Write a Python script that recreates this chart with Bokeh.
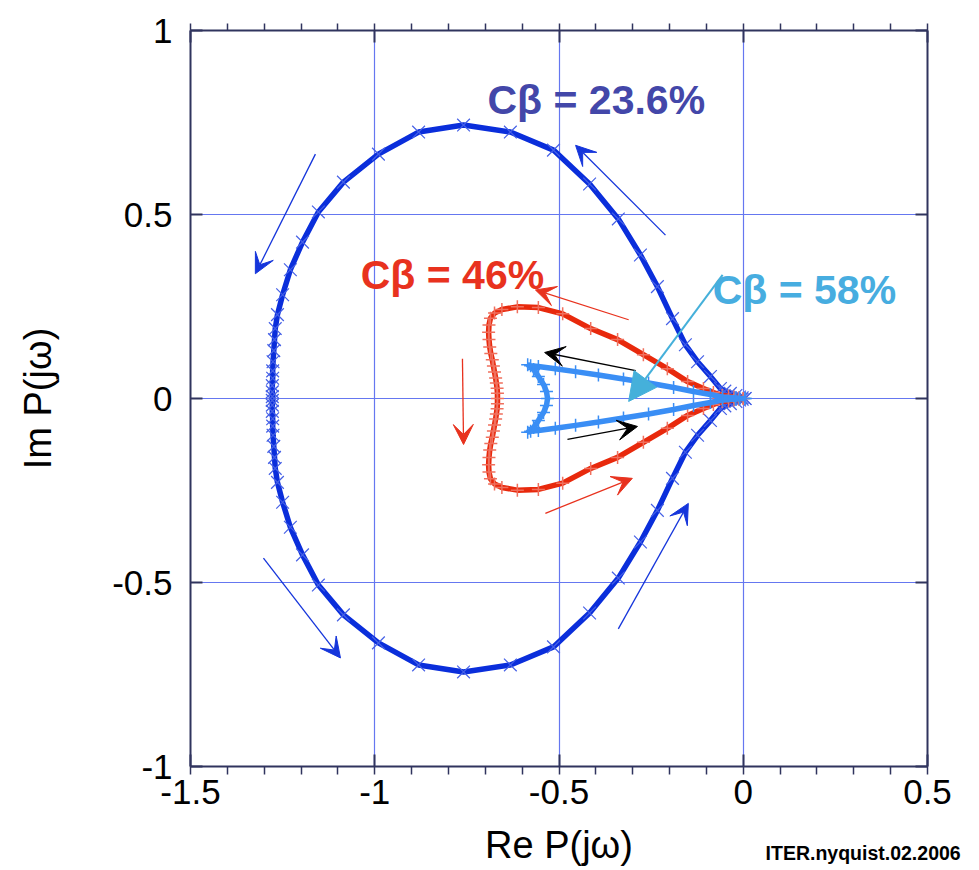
from bokeh.plotting import figure
from bokeh.models import (LinearAxis, SingleIntervalTicker, Arrow, VeeHead, NormalHead,
                          Label, ColumnDataSource, Range1d)
from bokeh.embed import file_html
from bokeh.resources import INLINE
from bokeh.core.properties import value

# ---------------- data ----------------
# C_beta = 23.6 %  (dark blue, x markers)
blue_x = [0.005, -0.003, -0.010, -0.020, -0.035, -0.050, -0.062, -0.089, -0.124, -0.157,
          -0.192, -0.233, -0.279, -0.339, -0.417, -0.515, -0.632, -0.759, -0.881, -0.990,
          -1.085, -1.153, -1.196, -1.229, -1.250, -1.264, -1.270, -1.272, -1.274, -1.276,
          -1.277, -1.277, -1.278, -1.278, -1.278,
          -1.278, -1.278, -1.278, -1.277, -1.277, -1.276, -1.274, -1.272, -1.270, -1.264,
          -1.250, -1.229, -1.196, -1.153, -1.085, -0.990, -0.881, -0.759, -0.632, -0.515,
          -0.417, -0.339, -0.279, -0.233, -0.192, -0.157, -0.124, -0.089, -0.062, -0.050,
          -0.035, -0.020, -0.010, -0.003, 0.005]
blue_y = [0.000, 0.002, 0.004, 0.008, 0.014, 0.020, 0.027, 0.060, 0.100, 0.146,
          0.217, 0.304, 0.390, 0.488, 0.583, 0.675, 0.724, 0.743, 0.724, 0.664,
          0.588, 0.507, 0.425, 0.350, 0.282, 0.228, 0.190, 0.160, 0.130, 0.100,
          0.075, 0.055, 0.035, 0.018, 0.005,
          -0.005, -0.018, -0.035, -0.055, -0.075, -0.100, -0.130, -0.160, -0.190, -0.228,
          -0.282, -0.350, -0.425, -0.507, -0.588, -0.664, -0.724, -0.743, -0.724, -0.675,
          -0.583, -0.488, -0.390, -0.304, -0.217, -0.146, -0.100, -0.060, -0.027, -0.020,
          -0.014, -0.008, -0.004, -0.002, 0.000]

# C_beta = 46 %  (red, + markers)
red_x = [0.000, -0.012, -0.025, -0.040, -0.057, -0.081, -0.108, -0.151, -0.206, -0.271,
         -0.341, -0.414, -0.490, -0.556, -0.613, -0.655, -0.675, -0.686, -0.690, -0.691,
         -0.690, -0.688, -0.685, -0.681, -0.678, -0.675, -0.672, -0.670, -0.668, -0.667,
         -0.667,
         -0.667, -0.668, -0.670, -0.672, -0.675, -0.678, -0.681, -0.685, -0.688, -0.690,
         -0.691, -0.690, -0.686, -0.675, -0.655, -0.613, -0.556, -0.490, -0.414, -0.341,
         -0.271, -0.206, -0.151, -0.108, -0.081, -0.057, -0.040, -0.025, -0.012, 0.000]
red_y = [0.000, 0.002, 0.004, 0.006, 0.008, 0.016, 0.027, 0.046, 0.081, 0.119,
         0.160, 0.190, 0.230, 0.247, 0.249, 0.242, 0.232, 0.218, 0.200, 0.180,
         0.160, 0.140, 0.122, 0.105, 0.088, 0.072, 0.056, 0.042, 0.028, 0.014,
         0.000,
         -0.014, -0.028, -0.042, -0.056, -0.072, -0.088, -0.105, -0.122, -0.140, -0.160,
         -0.180, -0.200, -0.218, -0.232, -0.242, -0.249, -0.247, -0.230, -0.190, -0.160,
         -0.119, -0.081, -0.046, -0.027, -0.016, -0.008, -0.006, -0.004, -0.002, 0.000]

# C_beta = 58 %  (light blue, + markers)
lblue_x = [0.005, -0.010, -0.021, -0.056, -0.089, -0.135, -0.189, -0.257, -0.325, -0.393,
           -0.455, -0.510, -0.556, -0.577, -0.585, -0.569, -0.556, -0.542, -0.534, -0.531,
           -0.534, -0.542, -0.556, -0.569, -0.585, -0.577, -0.556, -0.510, -0.455, -0.393,
           -0.325, -0.257, -0.189, -0.135, -0.089, -0.056, -0.021, -0.010, 0.005]
lblue_y = [0.000, 0.001, 0.002, 0.004, 0.011, 0.019, 0.030, 0.042, 0.053, 0.064,
           0.073, 0.081, 0.087, 0.089, 0.092, 0.079, 0.060, 0.038, 0.019, 0.000,
           -0.019, -0.038, -0.060, -0.079, -0.092, -0.089, -0.087, -0.081, -0.073, -0.064,
           -0.053, -0.042, -0.030, -0.019, -0.011, -0.004, -0.002, -0.001, 0.000]

# direction arrows
blue_arrow_x0 = [-1.161, -0.211, -1.302, -0.339]
blue_arrow_y0 = [0.664, 0.444, -0.434, -0.626]
blue_arrow_x1 = [-1.324, -0.455, -1.093, -0.149]
blue_arrow_y1 = [0.339, 0.688, -0.705, -0.285]
red_arrow_x0 = [-0.311, -0.762, -0.537]
red_arrow_y0 = [0.214, 0.108, -0.312]
red_arrow_x1 = [-0.564, -0.759, -0.301]
red_arrow_y1 = [0.295, -0.125, -0.217]
black_arrow_x0 = [-0.292, -0.477]
black_arrow_y0 = [0.076, -0.111]
black_arrow_x1 = [-0.539, -0.287]
black_arrow_y1 = [0.125, -0.076]
pointer_x = [-0.056, -0.311]
pointer_y = [0.336, -0.008]

# annotations
label_texts = ["Cβ = 23.6%", "Cβ = 46%", "Cβ = 58%"]
label_x = [-0.694, -1.038, -0.083]
label_y = [0.810, 0.336, 0.295]
label_colors = ["#4347A9", "#E8321E", "#47ADE0"]
credit_text = "ITER.nyquist.02.2006"

x_ticks = [-1.5, -1.0, -0.5, 0.0, 0.5]
x_tick_labels = ["-1.5", "-1", "-0.5", "0", "0.5"]
y_ticks = [-1.0, -0.5, 0.0, 0.5, 1.0]
y_tick_labels = ["-1", "-0.5", "0", "0.5", "1"]

# ---------------- figure ----------------
FONT = "Liberation Sans"
AXC = "#30345E"
GRID = "#6577F0"

p = figure(width=979, height=870, x_range=Range1d(-1.5, 0.5), y_range=Range1d(-1, 1),
           output_backend="svg", toolbar_location=None,
           min_border_left=190, min_border_right=52, min_border_top=30, min_border_bottom=104,
           x_axis_label="Re P(jω)", y_axis_label="Im P(jω)")
p.outline_line_color = None
p.background_fill_color = "white"
p.border_fill_color = "white"

xt = SingleIntervalTicker(interval=0.5, num_minor_ticks=5)
yt = SingleIntervalTicker(interval=0.5, num_minor_ticks=5)

for ax, t in ((p.xaxis[0], xt), (p.yaxis[0], yt)):
    ax.ticker = t
    ax.axis_line_color = AXC
    ax.axis_line_width = 2
    ax.major_tick_line_color = AXC
    ax.major_tick_line_width = 2
    ax.major_tick_in = 12
    ax.major_tick_out = 0
    ax.minor_tick_in = 0
    ax.major_label_text_font = FONT
    ax.major_label_text_font_size = "35px"
    ax.major_label_text_color = "black"
    ax.axis_label_text_font = FONT
    ax.axis_label_text_font_size = "38px"
    ax.axis_label_text_font_style = "normal"
    ax.axis_label_text_color = "black"

p.xaxis[0].major_label_overrides = dict(zip(x_ticks, x_tick_labels))
p.yaxis[0].major_label_overrides = dict(zip(y_ticks, y_tick_labels))
p.xaxis[0].minor_tick_out = 8
p.xaxis[0].minor_tick_line_color = AXC
p.xaxis[0].minor_tick_line_width = 1.5
p.xaxis[0].major_label_standoff = 5
p.xaxis[0].axis_label_standoff = 17
p.yaxis[0].minor_tick_out = 0
p.yaxis[0].minor_tick_line_color = None
p.yaxis[0].major_label_standoff = 18
p.yaxis[0].axis_label_standoff = 50

top = LinearAxis(ticker=SingleIntervalTicker(interval=0.5, num_minor_ticks=5))
right = LinearAxis(ticker=SingleIntervalTicker(interval=0.5, num_minor_ticks=5))
for ax in (top, right):
    ax.axis_line_color = AXC
    ax.axis_line_width = 2
    ax.major_tick_line_color = AXC
    ax.major_tick_line_width = 2
    ax.major_tick_in = 12
    ax.major_tick_out = 0
    ax.minor_tick_in = 0
    ax.major_label_text_font_size = "1px"
    ax.major_label_text_color = None
    ax.major_label_standoff = 0
top.minor_tick_out = 7
top.minor_tick_line_color = AXC
top.minor_tick_line_width = 1.5
right.minor_tick_out = 0
right.minor_tick_line_color = None
p.add_layout(top, "above")
p.add_layout(right, "right")

p.xgrid.ticker = xt
p.ygrid.ticker = yt
p.xgrid.grid_line_color = GRID
p.ygrid.grid_line_color = GRID
p.xgrid.grid_line_width = 1.2
p.ygrid.grid_line_width = 1.2

# curves
p.line(blue_x, blue_y, line_width=5.5, line_color="#0A2EDB")
p.scatter(blue_x, blue_y, marker="x", size=18, line_color="#4560E6", line_width=1.2)
p.line(red_x, red_y, line_width=5.5, line_color="#E8290C")
p.scatter(red_x, red_y, marker="cross", size=13, line_color="#F0705E", line_width=1.5)
p.line(lblue_x, lblue_y, line_width=5.5, line_color="#3A8EF5")
p.scatter(lblue_x, lblue_y, marker="cross", size=13, line_color="#3A8EF5", line_width=1.5)

# arrows
def add_arrows(x0, y0, x1, y1, color, width=1.3, size=20, head=None):
    src = ColumnDataSource(dict(x0=x0, y0=y0, x1=x1, y1=y1))
    if head is None:
        head = VeeHead(size=size, fill_color=color, line_color=color, line_width=1)
    p.add_layout(Arrow(end=head, x_start="x0", y_start="y0", x_end="x1", y_end="y1",
                       line_color=color, line_width=width, source=src))

add_arrows(blue_arrow_x0, blue_arrow_y0, blue_arrow_x1, blue_arrow_y1, "#1535DB")
add_arrows(red_arrow_x0, red_arrow_y0, red_arrow_x1, red_arrow_y1, "#E8321E")
add_arrows(black_arrow_x0, black_arrow_y0, black_arrow_x1, black_arrow_y1, "black")
add_arrows([pointer_x[0]], [pointer_y[0]], [pointer_x[1]], [pointer_y[1]], "#45B0DA",
           width=2, head=NormalHead(size=28, fill_color="#45B0DA", line_color="#45B0DA"))

# labels
p.text(x=label_x, y=label_y, text=label_texts, text_color=label_colors,
       text_font=value(FONT), text_font_style="bold", text_font_size="41px",
       text_baseline="alphabetic", text_align="left")

# credit line: a side-panel label (so it is not clipped to the frame); it uses data
# coordinates, so its position does not depend on the panel it sits in. The top panel
# has spare room, so the frame is not shrunk.
p.add_layout(Label(x=0.590, y=-1.236, text=credit_text, text_font=FONT,
                   text_font_style="bold", text_font_size="19.5px", text_align="right",
                   text_baseline="alphabetic", text_color="black"), "above")

open("out.html", "w").write(file_html(p, INLINE))
